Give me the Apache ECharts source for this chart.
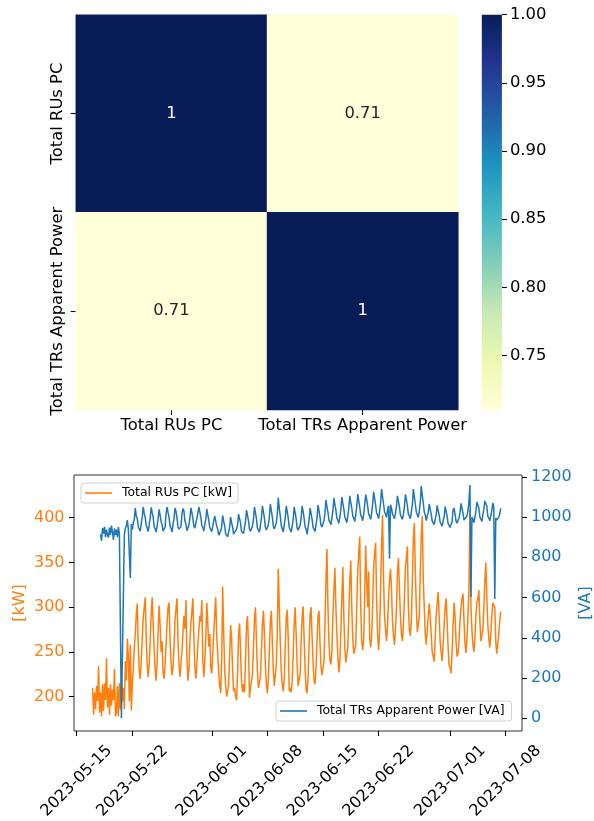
<!DOCTYPE html>
<html><head><meta charset="utf-8">
<script src="https://cdn.jsdelivr.net/npm/echarts@6/dist/echarts.min.js"></script>
<style>html,body{margin:0;padding:0;background:#fff}#c{width:594px;height:821px}</style>
</head><body><div id="c"></div>
<script>
const corrLabels = ['Total RUs PC', 'Total TRs Apparent Power'];
const corrRow0 = [1, 0.71];
const corrRow1 = [0.71, 1];
const colorbarMin = 0.71;
const colorbarMax = 1.0;
const colorbarTicks = [0.75, 0.80, 0.85, 0.90, 0.95, 1.00];
const kwTicks = [200, 250, 300, 350, 400];
const vaTicks = [0, 200, 400, 600, 800, 1000, 1200];
const dateTicks = ['2023-05-15','2023-05-22','2023-06-01','2023-06-08','2023-06-15','2023-06-22','2023-07-01','2023-07-08'];
const ruStart = '2023-05-17 00:00';
const trStart = '2023-05-18 00:00';
const stepHours = 3;
// Total RUs PC [kW], one row per day, 3-hourly
const ruPC = [
210,180,205,186,212,195,234,182,
205,178,214,184,215,196,243,188,
210,180,214,190,208,196,231,178,
182,212,178,215,186,220,195,210,
186,240,218,265,245,195,258,185,
215,232,255,270,292,304,258,228,
220,240,265,288,300,311,268,236,
222,236,262,292,311,282,252,230,
218,240,275,302,280,250,262,226,
220,236,258,282,300,305,262,238,
224,232,256,286,298,310,264,236,
222,238,250,272,290,276,308,244,
218,230,262,282,295,310,266,234,
220,236,258,274,290,284,308,240,
222,240,266,305,282,256,270,232,
226,248,272,292,311,268,248,226,
212,204,242,323,272,232,212,200,
198,214,246,280,264,230,206,210,
200,196,226,270,282,250,216,205,
214,205,240,280,290,256,199,210,
212,225,256,286,300,262,228,210,
208,222,250,280,296,270,236,214,
204,220,252,284,296,262,230,212,
210,236,272,343,300,262,228,214,
206,220,256,288,297,266,206,210,
205,218,248,282,300,270,236,212,
210,225,260,290,301,265,232,208,
204,222,256,292,300,268,240,218,
214,232,262,290,296,260,234,224,
222,240,280,330,365,300,262,240,
236,252,290,320,344,300,270,245,
227,240,272,310,345,290,255,238,
240,255,290,330,352,300,265,248,
248,258,300,340,360,379,300,262,
252,265,310,369,330,300,340,265,
255,268,300,345,360,372,310,270,
252,272,320,370,403,330,290,275,
262,280,310,330,343,320,285,268,
258,275,300,340,355,320,290,270,
262,280,310,345,355,368,300,275,
268,285,330,377,394,340,300,272,
270,290,340,380,402,330,300,270,
258,275,290,304,290,270,250,245,
239,265,290,305,317,290,262,250,
240,258,280,300,310,285,255,235,
232,226,250,280,305,290,262,245,
248,262,285,300,310,315,285,260,
249,265,290,320,409,300,275,258,
250,265,290,305,310,319,285,262,
261,275,300,330,350,310,280,265,
255,270,290,305,306,300,262,248,
249,270,285,295
];
// Total TRs Apparent Power [VA], one row per day, 3-hourly
const trPower = [
914,882,945,918,952,900,938,912,
898,948,912,958,925,886,944,910,
938,900,950,915,908,0,0,0,
912,945,955,985,940,935,697,965,
938,972,990,1045,1005,992,952,948,
930,968,1002,1050,1018,998,958,945,
928,962,995,1048,1022,1000,952,942,
925,958,992,1038,1030,978,960,930,
938,950,1018,1050,1022,998,955,945,
926,962,992,1045,1028,995,950,940,
936,952,1015,1042,1030,980,965,932,
930,960,995,1046,1022,992,955,945,
940,950,1018,1050,1025,1000,958,948,
930,962,988,1040,1012,985,948,938,
928,935,982,1005,1000,955,940,910,
912,930,952,1008,978,958,918,912,
902,925,948,1000,972,950,915,915,
912,940,962,1015,992,970,928,925,
918,950,978,1035,1008,982,940,930,
922,955,988,1050,1022,992,945,935,
925,960,995,1055,1028,995,950,936,
928,962,1000,1065,1032,1000,955,940,
932,970,1012,1097,1042,1005,958,942,
926,960,995,1055,1028,995,950,936,
925,955,988,1050,1022,990,945,935,
930,960,995,1055,1028,995,952,940,
914,950,985,1045,1018,990,950,940,
928,962,995,1060,1032,1000,960,950,
948,980,1022,1085,1052,1025,985,975,
962,995,1032,1095,1062,1035,995,985,
968,1000,1038,1100,1068,1040,1000,990,
972,1005,1045,1105,1072,1045,1005,995,
978,1010,1052,1114,1082,1050,1010,1000,
982,1015,1058,1112,1088,1055,1015,1005,
988,1020,1062,1125,1092,1060,1020,1010,
992,1025,1072,1139,1102,1065,1025,1015,
998,1035,1055,793,1062,1045,1015,1010,
992,1020,1052,1105,1078,1050,1010,1002,
988,1015,1052,1112,1088,1055,1015,1005,
992,1025,1062,1139,1102,1065,1025,1012,
998,1030,1072,1155,1108,1070,1025,1010,
982,1005,1022,1065,1038,1015,980,975,
962,990,1012,1058,1032,1010,975,968,
955,980,1002,1052,1028,1005,968,960,
948,952,978,1035,1045,1015,980,970,
968,995,1022,1068,1042,1020,985,980,
978,1005,1032,1080,1159,603,1000,990,
972,1000,1028,1075,1072,1045,1000,990,
978,1010,1038,1080,1089,1055,1005,995,
982,1005,1032,1070,1052,593,995,985,
976,1000,1015,1043
];

function parseLocal(s) {
  const parts = s.split(' ');
  const [y, m, d] = parts[0].split('-').map(Number);
  let h = 0, mi = 0;
  if (parts[1]) { [h, mi] = parts[1].split(':').map(Number); }
  return new Date(y, m - 1, d, h, mi).getTime();
}
const HOUR = 3600e3;
const ruData = ruPC.map((v, i) => [parseLocal(ruStart) + i * stepHours * HOUR, v]);
const trData = trPower.map((v, i) => [parseLocal(trStart) + i * stepHours * HOUR, v]);
const fmtDate = v => { const d = new Date(v); return d.getFullYear() + '-' + String(d.getMonth() + 1).padStart(2, '0') + '-' + String(d.getDate()).padStart(2, '0'); };
const dateTickValues = dateTicks.map(parseLocal);

const heatData = [];
[corrRow0, corrRow1].forEach((row, r) => row.forEach((v, c) => {
  heatData.push({ value: [c, r, v], label: { color: v > 0.855 ? '#ffffff' : '#262626' } });
}));

const YlGnBu = ['#ffffd9','#edf8b1','#c7e9b4','#7fcdbb','#41b6c4','#1d91c0','#225ea8','#253494','#081d58'];
const FONT = 'DejaVu Sans';
const ORANGE = '#ff7f0e', BLUE = '#1f77b4';
const TICK = { color: '#000', width: 1.1 };
const cbGradient = new echarts.graphic.LinearGradient(0, 1, 0, 0,
  YlGnBu.map((c, i) => ({ offset: i / (YlGnBu.length - 1), color: c })));

const chart = echarts.init(document.getElementById('c'), null, { renderer: 'canvas' });
chart.setOption({
  animation: false,
  backgroundColor: '#ffffff',
  textStyle: { fontFamily: FONT },
  grid: [
    { left: 75.8, top: 14.7, width: 382.5, height: 395.3, outerBoundsMode: 'none', containLabel: false },
    { left: 481.8, top: 14.7, width: 20.1, height: 395.3, outerBoundsMode: 'none', containLabel: false },
    { left: 74, top: 475, width: 448, height: 256, show: true, borderColor: '#333', borderWidth: 1,
      backgroundColor: 'transparent', outerBoundsMode: 'none', containLabel: false }
  ],
  xAxis: [
    { gridIndex: 0, type: 'category', data: corrLabels, axisLine: { show: false },
      axisTick: { show: true, alignWithLabel: true, length: 5, lineStyle: TICK },
      axisLabel: { fontSize: 16.4, color: '#000', margin: 8, interval: 0, fontFamily: FONT }, splitLine: { show: false } },
    { gridIndex: 1, type: 'category', data: ['colorbar'], show: false },
    { gridIndex: 2, type: 'value', position: 'bottom', min: parseLocal('2023-05-14 15:50'), max: parseLocal('2023-07-10 01:15'),
      axisLine: { show: false, onZero: false },
      axisTick: { show: true, length: 5, lineStyle: TICK, customValues: dateTickValues },
      axisLabel: { customValues: dateTickValues, formatter: fmtDate, rotate: 45, align: 'center', verticalAlign: 'middle',
        margin: 50, fontSize: 16, color: '#000', fontFamily: FONT },
      splitLine: { show: false } }
  ],
  yAxis: [
    { gridIndex: 0, type: 'category', data: corrLabels, inverse: true, axisLine: { show: false },
      axisTick: { show: true, alignWithLabel: true, length: 5, lineStyle: TICK },
      axisLabel: { rotate: 90, fontSize: 16.4, color: '#000', margin: 10, interval: 0, fontFamily: FONT }, splitLine: { show: false } },
    { gridIndex: 1, type: 'value', position: 'right', min: colorbarMin, max: colorbarMax, axisLine: { show: false },
      axisTick: { show: true, length: 5, lineStyle: TICK, customValues: colorbarTicks },
      axisLabel: { customValues: colorbarTicks, formatter: v => v.toFixed(2), fontSize: 16.4, color: '#000', margin: 8, fontFamily: FONT },
      splitLine: { show: false } },
    { gridIndex: 2, type: 'value', position: 'left', min: 161.7, max: 447.7, axisLine: { show: false, onZero: false },
      axisTick: { show: true, length: 5, lineStyle: TICK, customValues: kwTicks },
      axisLabel: { customValues: kwTicks, formatter: v => String(v), fontSize: 16, color: ORANGE, margin: 9.5, fontFamily: FONT },
      splitLine: { show: false },
      name: '[kW]', nameLocation: 'middle', nameGap: 46, nameRotate: 90, nameMoveOverlap: false,
      nameTextStyle: { color: ORANGE, fontSize: 16, fontFamily: FONT } },
    { gridIndex: 2, type: 'value', position: 'right', min: -63, max: 1209, axisLine: { show: false, onZero: false },
      axisTick: { show: true, length: 5, lineStyle: TICK, customValues: vaTicks },
      axisLabel: { customValues: vaTicks, formatter: v => String(v), fontSize: 16, color: BLUE, margin: 9, fontFamily: FONT },
      splitLine: { show: false },
      name: '[VA]', nameLocation: 'middle', nameGap: 55.5, nameRotate: 90, nameMoveOverlap: false,
      nameTextStyle: { color: BLUE, fontSize: 16, fontFamily: FONT } }
  ],
  visualMap: {
    type: 'continuous', min: colorbarMin, max: colorbarMax, seriesIndex: 0, show: false,
    inRange: { color: YlGnBu }
  },
  legend: [
    { data: ['Total RUs PC [kW]'], left: 81, top: 483, icon: 'rect', itemWidth: 27, itemHeight: 1.6,
      padding: [4, 6, 4, 4], backgroundColor: 'rgba(255,255,255,0.8)', borderColor: '#d0d0d0', borderWidth: 1, borderRadius: 3,
      textStyle: { fontSize: 12.4, color: '#000', fontFamily: FONT, padding: [0, 0, 0, 5] }, selectedMode: false },
    { data: ['Total TRs Apparent Power [VA]'], left: 276, top: 701, icon: 'rect', itemWidth: 27, itemHeight: 1.6,
      padding: [4, 7, 4, 4], backgroundColor: 'rgba(255,255,255,0.8)', borderColor: '#d0d0d0', borderWidth: 1, borderRadius: 3,
      textStyle: { fontSize: 12.4, color: '#000', fontFamily: FONT, padding: [0, 0, 0, 5] }, selectedMode: false }
  ],
  series: [
    { type: 'heatmap', xAxisIndex: 0, yAxisIndex: 0, data: heatData,
      label: { show: true, fontSize: 16.4, fontFamily: FONT, formatter: p => String(p.value[2]) },
      emphasis: { disabled: true } },
    { type: 'line', name: 'Total RUs PC [kW]', xAxisIndex: 2, yAxisIndex: 2, data: ruData,
      symbol: 'none', showSymbol: false, lineStyle: { width: 1.5, color: ORANGE }, itemStyle: { color: ORANGE } },
    { type: 'line', name: 'Total TRs Apparent Power [VA]', xAxisIndex: 2, yAxisIndex: 3, data: trData,
      symbol: 'none', showSymbol: false, lineStyle: { width: 1.5, color: BLUE }, itemStyle: { color: BLUE } },
    { type: 'bar', xAxisIndex: 1, yAxisIndex: 1, stack: 'colorbar', data: [colorbarMin], barWidth: '100%',
      itemStyle: { color: 'rgba(0,0,0,0)' }, silent: true },
    { type: 'bar', xAxisIndex: 1, yAxisIndex: 1, stack: 'colorbar', data: [colorbarMax - colorbarMin], barWidth: '100%',
      itemStyle: { color: cbGradient }, silent: true }
  ]
});
</script></body></html>
